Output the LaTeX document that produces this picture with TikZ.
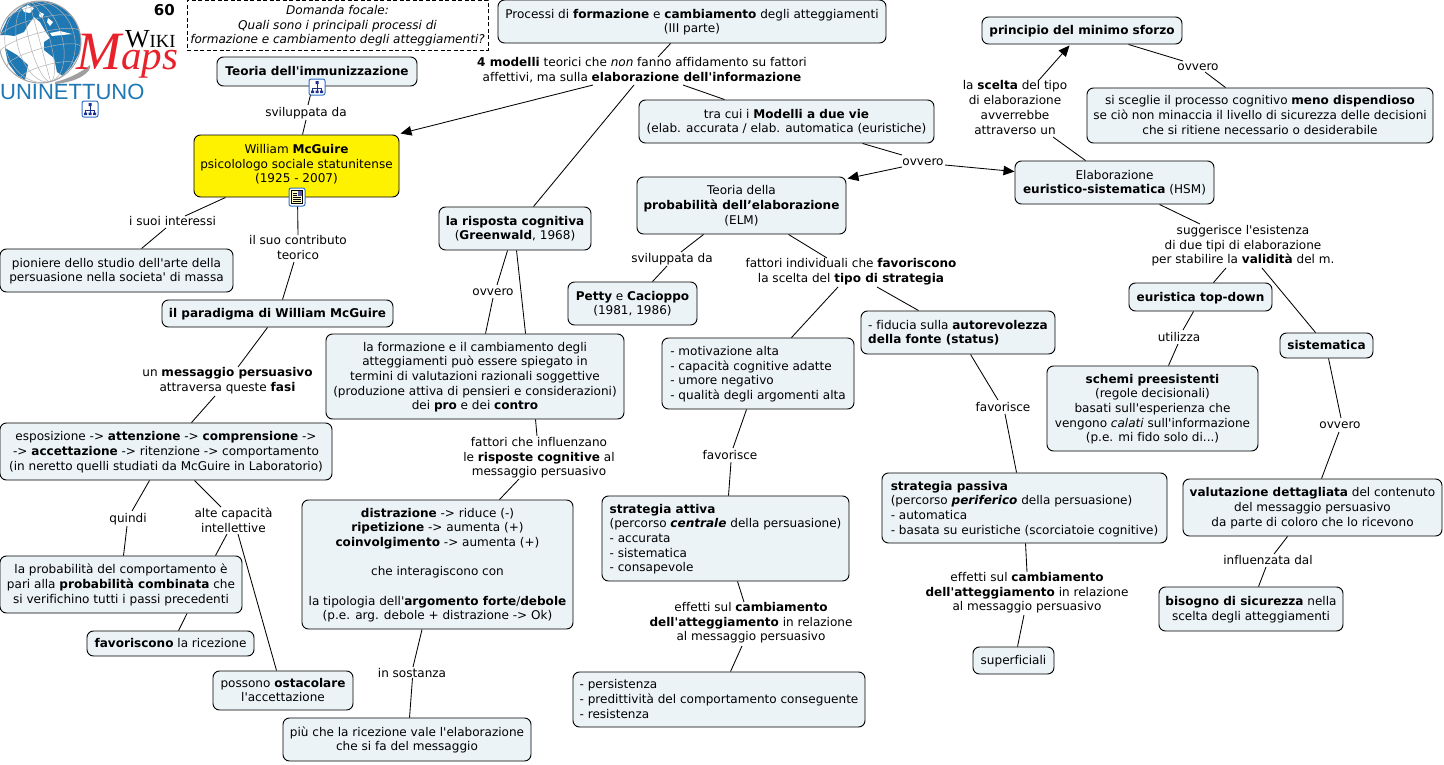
\documentclass[tikz,border=0pt]{standalone}
\usepackage{fontspec}
\setmainfont{DejaVu Sans}[Ligatures={TeXOff,CommonOff}]
\newfontfamily\logoserif{Liberation Serif}
\newfontfamily\logosans{Liberation Sans}
\usetikzlibrary{arrows.meta}
\definecolor{boxfill}{HTML}{ECF3F6}
\definecolor{logoblue}{HTML}{1E78B4}
\definecolor{logored}{HTML}{E8222A}
\definecolor{icoblue}{HTML}{2F6FC8}
\definecolor{icodark}{HTML}{1F2F8F}
\tikzset{
  x=1pt,y=-1pt,
  mapfont/.style={font=\fontsize{12.05}{14.67}\selectfont},
  conceptbox/.style={mapfont,draw=black,line width=0.95pt,fill=boxfill,rounded corners=6.5pt,align=center,inner sep=0pt,text=black},
  lab/.style={mapfont,align=center,inner sep=0pt,text=black},
  lnk/.style={draw=black,line width=0.85pt},
  arr/.style={lnk,-{Triangle[length=11pt,width=9.5pt]}},
}
\newcommand\topstrut{\rule{0pt}{12pt}}
\newcommand\botstrut{\rule[-4pt]{0pt}{0pt}}
\newcommand\cbox[7][]{\node[conceptbox,minimum width={(#5)-(#3)},minimum height={(#6)-(#4)},#1] (#2) at ({(#3+#5)/2},{(#4+#6)/2}) {\topstrut#7\botstrut};}
\newcommand\lbl[3]{\node[lab] (#1) at (#2) {\topstrut#3\botstrut};}
\newcommand\icontree[2]{\begin{scope}[shift={(#1,#2)}]
  \draw[icoblue,line width=1pt,fill=white,rounded corners=2pt] (-8,-8) rectangle (8,8);
  \draw[icodark,line width=0.7pt] (0,-3) -- (0,1) (-4.5,4) -- (-4.5,1) -- (4.5,1) -- (4.5,4) (0,1) -- (0,4);
  \fill[icodark] (-1.5,-6) rectangle (1.5,-3) (-6,3.5) rectangle (-3,6) (-1.5,3.5) rectangle (1.5,6) (3,3.5) rectangle (6,6);
\end{scope}}
\newcommand\icondoc[2]{\begin{scope}[shift={(#1,#2)}]
  \draw[icoblue,line width=1pt,fill=white,rounded corners=2pt] (-8,-9) rectangle (8,9);
  \draw[black,line width=0.7pt,fill=yellow!25] (-5.5,-6.5) rectangle (5.5,6.5);
  \fill[gray!70!blue] (0.5,-6) rectangle (5,-1.5);
  \draw[black,line width=0.5pt] (-4,-4) -- (-0.5,-4) (-4,-2) -- (-0.5,-2) (-4,0) -- (4,0) (-4,2) -- (4,2) (-4,4) -- (4,4);
\end{scope}}
\begin{document}
\begin{tikzpicture}
\useasboundingbox (0,0) rectangle (1444,764);
\fill[white] (0,0) rectangle (1444,764);
% logo
\fill[gray!75] (55,82) .. controls (72,78) and (84,70) .. (90,65) .. controls (92,72) and (78,82) .. (55,84) -- cycle;
\begin{scope}
  \clip (40,42) circle[radius=41];
  \fill[white] (40,42) circle[radius=41];
  \fill[logoblue] (0,35) -- (8,18) -- (25,4) -- (45,0) -- (62,4) -- (76,20) -- (82,38) -- (80,52) -- (72,66) -- (63,76) -- (57,72) -- (54,58) -- (44,50) -- (44,42) -- (50,38) -- (46,32) -- (40,22) -- (34,17) -- (28,25) -- (24,32) -- (14,36) -- (7,35) -- cycle;
  \fill[logoblue] (5,48) -- (17,55) -- (28,65) -- (25,80) -- (17,75) -- (8,63) -- cycle;
  \fill[white] (22,8) -- (28,5) -- (34,8) -- (30,13) -- (24,12) -- cycle;
  \fill[white] (40,12) -- (44,14) -- (42,18) -- (39,16) -- cycle;
  \fill[white] (50,33) -- (60,31) -- (72,34) -- (62,35) -- (52,36) -- cycle;
  \fill[white] (48,18) -- (53,22) -- (50,26) -- (47,22) -- cycle;
  \begin{scope}[rotate around={15:(40,42)}]
    \foreach \k in {0.25,0.55,0.85} \draw[gray!60,line width=0.5pt] (40,42) ellipse[x radius={41*\k},y radius=41];
    \draw[gray!60,line width=0.5pt] (40,1) -- (40,83);
    \foreach \d in {-30,-15,0,15,30} {
      \pgfmathsetmacro\rx{sqrt(41*41-\d*\d)}
      \draw[gray!60,line width=0.5pt] ({40-\rx},{42+\d}) arc[start angle=180,end angle=360,x radius=\rx,y radius={0.22*\rx}];
    }
  \end{scope}
\end{scope}
\draw[gray!70,line width=1pt] (40,42) circle[radius=41];
\node[inner sep=0pt,anchor=base west,text=black,font=\logoserif] (logowiki) at (125,47) {\fontsize{26}{26}\selectfont W\fontsize{18.5}{18.5}\selectfont IKI};
\node[inner sep=0pt,anchor=base west,text=logored,font=\logoserif\itshape] (logomaps) at (76,69) {\fontsize{54}{54}\selectfont M\fontsize{41}{41}\selectfont aps};
\node[inner sep=0pt,anchor=base west,text=logoblue,font=\logosans] (logouni) at (0,99) {\fontsize{22}{22}\selectfont UNINETTUNO};
\node[inner sep=0pt,anchor=base east,font=\fontsize{15}{15}\selectfont\bfseries] (num) at (175,15) {60};
% focal question
\node[draw=black,dash pattern=on 4pt off 2.5pt,line width=0.8pt,fill=white,align=center,inner sep=0pt,minimum width=301,minimum height=50,font=\fontsize{12.05}{14.67}\selectfont\itshape] (focal) at (337.5,25) {\topstrut Domanda focale:\\Quali sono i principali processi di\\formazione e cambiamento degli atteggiamenti?\botstrut};
% concepts
\cbox{processi}{498}{0}{886}{43}{Processi di \textbf{formazione} e \textbf{cambiamento} degli atteggiamenti\\(III parte)}
\cbox{principio}{982}{17}{1182}{44}{\textbf{principio del minimo sforzo}}
\cbox{sceglie}{1087}{88}{1433}{143}{si sceglie il processo cognitivo \textbf{meno dispendioso}\\se ciò non minaccia il livello di sicurezza delle decisioni\\che si ritiene necessario o desiderabile}
\cbox{teoria}{217}{57}{417}{86}{\textbf{Teoria dell'immunizzazione}}
\cbox[fill=yellow]{mc}{194}{135}{399}{197}{William \textbf{McGuire}\\psicolologo sociale statunitense\\(1925 - 2007)\rule[-8pt]{0pt}{0pt}}
\cbox{modelli}{639}{100}{934}{143}{tra cui i \textbf{Modelli a due vie}\\(elab. accurata / elab. automatica (euristiche)}
\cbox{hsm}{1015}{161}{1214}{204}{Elaborazione\\\textbf{euristico-sistematica} (HSM)}
\cbox{elm}{637}{177}{846}{234}{Teoria della\\\textbf{probabilità dell’elaborazione}\\(ELM)}
\cbox{risposta}{439}{207}{591}{250}{\textbf{la risposta cognitiva}\\(\textbf{Greenwald}, 1968)}
\cbox{pioniere}{0}{249}{233}{292}{pioniere dello studio dell'arte della\\persuasione nella societa' di massa}
\cbox{paradigma}{162}{300}{393}{327}{\textbf{il paradigma di William McGuire}}
\cbox{petty}{568}{282}{697}{325}{\textbf{Petty} e \textbf{Cacioppo}\\(1981, 1986)}
\cbox[align=left]{fiducia}{861}{311}{1055}{354}{- fiducia sulla \textbf{autorevolezza}\\\textbf{della fonte (status)}}
\cbox{euristica}{1129}{283}{1272}{311}{\textbf{euristica top-down}}
\cbox{sistematica}{1280}{333}{1373}{358}{\textbf{sistematica}}
\cbox{formazione}{326}{334}{624}{419}{la formazione e il cambiamento degli\\atteggiamenti può essere spiegato in\\termini di valutazioni razionali soggettive\\(produzione attiva di pensieri e considerazioni)\\dei \textbf{pro} e dei \textbf{contro}}
\cbox[align=left]{motivazione}{662}{338}{854}{409}{- motivazione alta\\- capacità cognitive adatte\\- umore negativo\\- qualità degli argomenti alta}
\cbox{schemi}{1047}{366}{1258}{451}{\textbf{schemi preesistenti}\\(regole decisionali)\\basati sull'esperienza che\\vengono \textit{calati} sull'informazione\\(p.e. mi fido solo di...)}
\cbox{esposizione}{0}{423}{332}{480}{esposizione -> \textbf{attenzione} -> \textbf{comprensione} ->\\-> \textbf{accettazione} -> ritenzione -> comportamento\\(in neretto quelli studiati da McGuire in Laboratorio)}
\cbox[align=left]{passiva}{882}{473}{1167}{543}{\textbf{strategia passiva}\\(percorso \textbf{\textit{periferico}} della persuasione)\\- automatica\\- basata su euristiche (scorciatoie cognitive)}
\cbox{valutazione}{1183}{479}{1442}{536}{\textbf{valutazione dettagliata} del contenuto\\del messaggio persuasivo\\da parte di coloro che lo ricevono}
\cbox[align=left]{attiva}{602}{496}{849}{581}{\textbf{strategia attiva}\\(percorso \textbf{\textit{centrale}} della persuasione)\\- accurata\\- sistematica\\- consapevole}
\cbox{distrazione}{302}{500}{573}{629}{\textbf{distrazione} -> riduce (-)\\\textbf{ripetizione} -> aumenta (+)\\\textbf{coinvolgimento} -> aumenta (+)\\~\\che interagiscono con\\~\\la tipologia dell'\textbf{argomento forte}/\textbf{debole}\\(p.e. arg. debole + distrazione -> Ok)}
\cbox{probab}{0}{556}{242}{613}{la probabilità del comportamento è\\pari alla \textbf{probabilità combinata} che\\si verifichino tutti i passi precedenti}
\cbox{bisogno}{1159}{587}{1343}{631}{\textbf{bisogno di sicurezza} nella\\scelta degli atteggiamenti}
\cbox{favoriscono}{87}{631}{254}{656}{\textbf{favoriscono} la ricezione}
\cbox{superficiali}{973}{647}{1054}{674}{superficiali}
\cbox{possono}{213}{671}{353}{710}{possono \textbf{ostacolare}\\l'accettazione}
\cbox[align=left]{persistenza}{573}{672}{865}{727}{- persistenza\\- predittività del comportamento conseguente\\- resistenza}
\cbox{piu}{283}{718}{531}{761}{più che la ricezione vale l'elaborazione\\che si fa del messaggio}
% link phrases
\lbl{lmod}{642,70}{\textbf{4 modelli} teorici che \textit{non} fanno affidamento su fattori\\affettivi, ma sulla \textbf{elaborazione dell'informazione}}
\lbl{lovA}{923,161}{ovvero}
\lbl{lsce}{1015,108}{la \textbf{scelta} del tipo\\di elaborazione\\avverrebbe\\attraverso un}
\lbl{lovB}{1198,66}{ovvero}
\lbl{lsug}{1243,245}{suggerisce l'esistenza\\di due tipi di elaborazione\\per stabilire la \textbf{validità} del m.}
\lbl{lsvA}{306,112}{sviluppata da}
\lbl{lint}{172.5,221}{i suoi interessi}
\lbl{lcon}{298,248}{il suo contributo\\teorico}
\lbl{lmes}{227.5,380}{un \textbf{messaggio persuasivo}\\attraversa queste \textbf{fasi}}
\lbl{lqui}{128,518}{quindi}
\lbl{lalt}{233.5,521}{alte capacità\\intellettive}
\lbl{lsos}{412,673}{in sostanza}
\lbl{lfat}{539,457}{fattori che influenzano\\le \textbf{risposte cognitive} al\\messaggio persuasivo}
\lbl{lovC}{493,291}{ovvero}
\lbl{lsvB}{672,258}{sviluppata da}
\lbl{lind}{851,271}{fattori individuali che \textbf{favoriscono}\\la scelta del \textbf{tipo di strategia}}
\lbl{lfaA}{730,455}{favorisce}
\lbl{lfaB}{1003,407}{favorisce}
\lbl{leffA}{751,622}{effetti sul \textbf{cambiamento}\\\textbf{dell'atteggiamento} in relazione\\al messaggio persuasivo}
\lbl{leffB}{1027,592}{effetti sul \textbf{cambiamento}\\\textbf{dell'atteggiamento} in relazione\\al messaggio persuasivo}
\lbl{linf}{1268,560}{influenzata dal}
\lbl{luti}{1179,337}{utilizza}
\lbl{lovD}{1340,424}{ovvero}
% connectors
\draw[lnk] ([shift={(173,0)}]processi.south west) -- ([shift={(16,-13)}]lmod.center);
\draw[arr] ([shift={(-49,15)}]lmod.center) -- ([shift={(1,-1)}]mc.north east);
\draw[lnk] ([shift={(-8,15)}]lmod.center) -- ([shift={(95,0)}]risposta.north west);
\draw[lnk] ([shift={(41,15)}]lmod.center) -- ([shift={(86,0)}]modelli.north west);
\draw[lnk] ([shift={(224,0)}]modelli.south west) -- ([shift={(-21,-6)}]lovA.center);
\draw[arr] ([shift={(-21,6)}]lovA.center) -- ([shift={(1,2)}]elm.north east);
\draw[arr] ([shift={(22,4)}]lovA.center) -- ([shift={(0,11)}]hsm.north west);
\draw[lnk] ([shift={(71,0)}]hsm.north west) -- ([shift={(38,29)}]lsce.center);
\draw[arr] ([shift={(24,-28)}]lsce.center) -- ([shift={(88,1)}]principio.south west);
\draw[lnk] ([shift={(147,0)}]principio.south west) -- ([shift={(-15,-5)}]lovB.center);
\draw[lnk] ([shift={(7,6)}]lovB.center) -- ([shift={(139,0)}]sceglie.north west);
\draw[lnk] ([shift={(145,0)}]hsm.south west) -- ([shift={(-43,-21)}]lsug.center);
\draw[lnk] ([shift={(-17,23)}]lsug.center) -- ([shift={(85,0)}]euristica.north west);
\draw[lnk] ([shift={(19,23)}]lsug.center) -- ([shift={(36,0)}]sistematica.north west);
\draw[lnk] ([shift={(96,0)}]teoria.south west) -- ([shift={(2,-7)}]lsvA.center);
\draw[lnk] ([shift={(0,8)}]lsvA.center) -- ([shift={(109,0)}]mc.north west);
\draw[lnk] ([shift={(32,0)}]mc.south west) -- ([shift={(12.5,-5)}]lint.center);
\draw[lnk] ([shift={(-6.5,7)}]lint.center) -- ([shift={(142,0)}]pioniere.north west);
\draw[lnk] ([shift={(104,0)}]mc.south west) -- ([shift={(0,-13)}]lcon.center);
\draw[lnk] ([shift={(-4,14)}]lcon.center) -- ([shift={(121,0)}]paradigma.north west);
\draw[lnk] ([shift={(106,0)}]paradigma.south west) -- ([shift={(10.5,-13)}]lmes.center);
\draw[lnk] ([shift={(-12.5,16)}]lmes.center) -- ([shift={(192,0)}]esposizione.north west);
\draw[lnk] ([shift={(150,0)}]esposizione.south west) -- ([shift={(4,-7)}]lqui.center);
\draw[lnk] ([shift={(-1,8)}]lqui.center) -- ([shift={(124,0)}]probab.north west);
\draw[lnk] ([shift={(195,0)}]esposizione.south west) -- ([shift={(-12.5,-14)}]lalt.center);
\draw[lnk] ([shift={(-6.5,13)}]lalt.center) -- ([shift={(216,0)}]probab.north west);
\draw[lnk] ([shift={(4.5,13)}]lalt.center) -- ([shift={(64,0)}]possono.north west);
\draw[lnk] ([shift={(187.5,0)}]probab.south west) -- ([shift={(92,0)}]favoriscono.north west);
\draw[lnk] ([shift={(120.5,0)}]distrazione.south west) -- ([shift={(1,-6)}]lsos.center);
\draw[lnk] ([shift={(0.5,5)}]lsos.center) -- ([shift={(127,0)}]piu.north west);
\draw[lnk] ([shift={(210,0)}]formazione.south west) -- ([shift={(-2,-21)}]lfat.center);
\draw[lnk] ([shift={(-20,22)}]lfat.center) -- ([shift={(198,0)}]distrazione.north west);
\draw[lnk] ([shift={(69,0)}]risposta.south west) -- ([shift={(4,-6)}]lovC.center);
\draw[lnk] ([shift={(0,7)}]lovC.center) -- ([shift={(160,0)}]formazione.north west);
\draw[lnk] ([shift={(78,0)}]risposta.south west) -- ([shift={(200,0)}]formazione.north west);
\draw[lnk] ([shift={(67,0)}]elm.south west) -- ([shift={(9,-6)}]lsvB.center);
\draw[lnk] ([shift={(-5,8)}]lsvB.center) -- ([shift={(85,0)}]petty.north west);
\draw[lnk] ([shift={(152,0)}]elm.south west) -- ([shift={(-24,-13)}]lind.center);
\draw[lnk] ([shift={(-13,16)}]lind.center) -- ([shift={(130,0)}]motivazione.north west);
\draw[lnk] ([shift={(26,16)}]lind.center) -- ([shift={(58,0)}]fiducia.north west);
\draw[lnk] ([shift={(85,0)}]motivazione.south west) -- ([shift={(3,-7)}]lfaA.center);
\draw[lnk] ([shift={(1,7)}]lfaA.center) -- ([shift={(127,0)}]attiva.north west);
\draw[lnk] ([shift={(110,0)}]fiducia.south west) -- ([shift={(-5,-7)}]lfaB.center);
\draw[lnk] ([shift={(2,7)}]lfaB.center) -- ([shift={(135,0)}]passiva.north west);
\draw[lnk] ([shift={(136,0)}]attiva.south west) -- ([shift={(-7,-20)}]leffA.center);
\draw[lnk] ([shift={(-9,24)}]leffA.center) -- ([shift={(158,0)}]persistenza.north west);
\draw[lnk] ([shift={(144,0)}]passiva.south west) -- ([shift={(0,-20)}]leffB.center);
\draw[lnk] ([shift={(-3,23)}]leffB.center) -- ([shift={(45,0)}]superficiali.north west);
\draw[lnk] ([shift={(105,0)}]valutazione.south west) -- ([shift={(6,-6)}]linf.center);
\draw[lnk] ([shift={(-2,7)}]linf.center) -- ([shift={(100,0)}]bisogno.north west);
\draw[lnk] ([shift={(65,0)}]euristica.south west) -- ([shift={(4,-7)}]luti.center);
\draw[lnk] ([shift={(-1,7)}]luti.center) -- ([shift={(122,0)}]schemi.north west);
\draw[lnk] ([shift={(49,0)}]sistematica.south west) -- ([shift={(1,-6)}]lovD.center);
\draw[lnk] ([shift={(-1,8)}]lovD.center) -- ([shift={(139,0)}]valutazione.north west);
% resource icons
\icontree{317}{87}
\icontree{90}{109}
\icondoc{297}{197}
\end{tikzpicture}
\end{document}
